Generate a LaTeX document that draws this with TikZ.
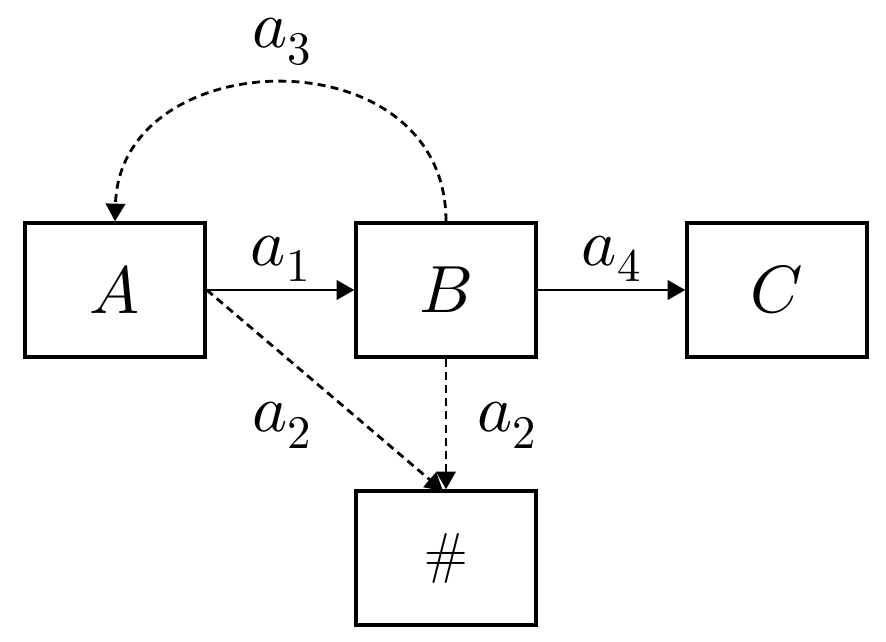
\documentclass[tikz,border=0pt]{standalone}
\usepackage{unicode-math}
\setmathfont{Latin Modern Math}
\usetikzlibrary{arrows.meta}
\begin{document}
\begin{tikzpicture}[x=0.02cm,y=-0.02cm,
  box/.style={draw,line width=2pt,minimum width=180*0.02cm,minimum height=134*0.02cm,inner sep=0pt,font=\fontsize{38}{42}\selectfont},
  lbl/.style={font=\fontsize{38}{42}\selectfont,inner sep=0pt},
  conn/.style={line width=1.6pt,-{Triangle[length=10pt,width=11pt]}},
  dconn/.style={conn,dash pattern=on 4.5pt off 3pt}]
\useasboundingbox (0,0) rectangle (886,642);
\node[box] (A) at (115,290) {$A$};
\node[box] (B) at (446,290) {$B$};
\node[box] (C) at (777,290) {$C$};
\node[box,font=\fontsize{32}{36}\selectfont] (H) at (446,558) {\#};
\coordinate (Ht) at (443,491);
\draw[conn] (A.east) -- node[lbl,above=4pt] {$a_1$} (B.west);
\draw[conn] (B.east) -- node[lbl,above=4pt] {$a_4$} (C.west);
\draw[dconn] (A.east) -- (Ht);
\draw[dconn] (B.south) -- (B.south |- H.north);
\draw[dconn] (B.north) .. controls +(0,-188) and +(5,-180) .. (A.north);
\node[lbl] (l3) at (282,42) {$a_3$};
\node[lbl] (l2a) at (282,425) {$a_2$};
\node[lbl] (l2b) at (507,425) {$a_2$};
\end{tikzpicture}
\end{document}
